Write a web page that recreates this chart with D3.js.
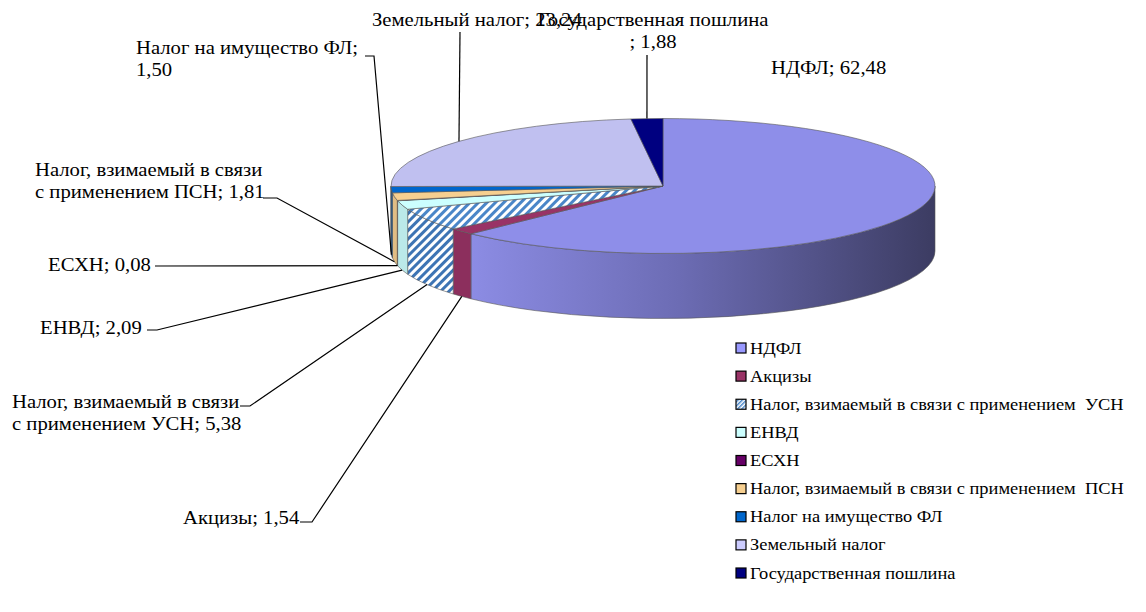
<!DOCTYPE html>
<html>
<head>
<meta charset="utf-8">
<script src="https://cdn.jsdelivr.net/npm/d3@7"></script>
<style>
  body { margin: 0; background: #fff; }
</style>
</head>
<body>
<div id="chart"></div>
<script>
// data
const names = ["НДФЛ", "Акцизы", "Налог, взимаемый в связи с применением  УСН", "ЕНВД", "ЕСХН",
  "Налог, взимаемый в связи с применением  ПСН", "Налог на имущество ФЛ", "Земельный налог", "Государственная пошлина"];
const values = [62.48, 1.54, 5.38, 2.09, 0.08, 1.81, 1.50, 23.24, 1.88];
const colors = ["#8e8ee9", "#993366", "url(#usn)", "#ccffff", "#660066", "#f6cf90", "#0066cc", "#c0c0f0", "#000080"];
const legendColors = ["#9999ff", "#993366", "url(#usnLeg)", "#ccffff", "#660066", "#f6cf90", "#0066cc", "#ccccff", "#000080"];

// label placement (layout only)
const labelPos = [
  {x: 771, y: 74, brk: null, pts: null},
  {x: 183, y: 524, brk: null, pts: [[300, 522], [312, 522]]},
  {x: 12, y: 408, brk: "связи", pts: [[240, 406], [250, 406]]},
  {x: 40, y: 334, brk: null, pts: [[147, 330], [157, 330]]},
  {x: 48, y: 271, brk: null, pts: [[155, 266]]},
  {x: 35, y: 176, brk: "связи", pts: [[263, 198], [277, 198]]},
  {x: 136, y: 54, brk: "ФЛ;", pts: [[365, 56], [374, 56]]},
  {x: 372, y: 26, brk: null, pts: [[460, 32]]},
  {x: 653, y: 26, brk: "пошлина", anchor: "middle", pts: [[647, 55]]}
];

const FONT = "'Liberation Serif', 'Times New Roman', 'DejaVu Serif', serif";
const W = 1146, H = 612;
const cx = 663, cy = 186, rx = 272, ry = 67.5, depth = 65;

const svg = d3.select("#chart").append("svg")
    .attr("width", W)
    .attr("height", H);

const defs = svg.append("defs");
function stripes(id, size, col) {
  const p = defs.append("pattern")
      .attr("id", id)
      .attr("width", size).attr("height", size)
      .attr("patternUnits", "userSpaceOnUse")
      .attr("patternTransform", "rotate(45)");
  p.append("rect").attr("width", size).attr("height", size).attr("fill", "#fff");
  p.append("rect").attr("width", size / 2).attr("height", size).attr("fill", col);
}
stripes("usn", 6, "#4a86c8");
stripes("usnSide", 6, "#3d74b4");
stripes("usnLeg", 3, "#4a86c8");

const grad = defs.append("linearGradient")
    .attr("id", "ndflSide")
    .attr("gradientUnits", "userSpaceOnUse")
    .attr("x1", 470).attr("x2", cx + rx).attr("y1", 0).attr("y2", 0);
grad.append("stop").attr("offset", "0%").attr("stop-color", "#8c8ce4");
grad.append("stop").attr("offset", "45%").attr("stop-color", "#6c6cb4");
grad.append("stop").attr("offset", "100%").attr("stop-color", "#3c3c62");

const fmt = v => v.toFixed(2).replace(".", ",");
const pt = (a, dy = 0) => [cx + rx * Math.sin(a), cy - ry * Math.cos(a) + dy];

const arcs = d3.pie().sort(null).value(d => d)(values);

// side walls (front half only)
const sides = svg.append("g");
arcs.forEach((d, i) => {
  const s = Math.max(d.startAngle, Math.PI / 2), e = Math.min(d.endAngle, 3 * Math.PI / 2);
  if (s >= e) return;
  const p0 = pt(s), p1 = pt(e), q1 = pt(e, depth), q0 = pt(s, depth);
  let fill;
  if (i === 0) fill = "url(#ndflSide)";
  else if (i === 2) fill = "url(#usnSide)";
  else fill = d3.color(colors[i]).darker(0.25);
  sides.append("path")
      .attr("d", `M${p0}A${rx},${ry} 0 0 1 ${p1}L${q1}A${rx},${ry} 0 0 0 ${q0}Z`)
      .attr("fill", fill)
      .attr("stroke", "#555")
      .attr("stroke-width", 0.6);
});

// top faces
const tops = svg.append("g");
arcs.forEach((d, i) => {
  const p0 = pt(d.startAngle), p1 = pt(d.endAngle);
  const large = d.endAngle - d.startAngle > Math.PI ? 1 : 0;
  tops.append("path")
      .attr("d", `M${cx},${cy}L${p0}A${rx},${ry} 0 ${large} 1 ${p1}Z`)
      .attr("fill", colors[i])
      .attr("stroke", "#555")
      .attr("stroke-width", 0.6);
});

// leader lines
arcs.forEach((d, i) => {
  const lp = labelPos[i];
  if (!lp.pts) return;
  const mid = (d.startAngle + d.endAngle) / 2;
  const front = mid > Math.PI / 2 && mid < 3 * Math.PI / 2;
  const end = front ? pt(mid, depth) : pt(mid);
  svg.append("path")
      .attr("d", d3.line()(lp.pts.concat([end])))
      .attr("fill", "none")
      .attr("stroke", "#000")
      .attr("stroke-width", 1.2);
});

// data labels
arcs.forEach((d, i) => {
  const lp = labelPos[i];
  const full = names[i].replace(/\s+/g, " ") + "; " + fmt(values[i]);
  let lines = [full];
  if (lp.brk) {
    const k = full.indexOf(lp.brk) + lp.brk.length;
    lines = [full.slice(0, k), full.slice(k).trim()];
  }
  lines.forEach((t, j) => {
    svg.append("text")
        .attr("transform", `translate(${lp.x},${lp.y + j * 22}) scale(1.15,1)`)
        .attr("text-anchor", lp.anchor || "start")
        .style("font-family", FONT)
        .style("font-size", "18px")
        .style("fill", "#000")
        .text(t);
  });
});

// legend
const lg = svg.append("g");
const ly = d3.scalePoint().domain(names).range([348, 573]);
names.forEach((n, i) => {
  lg.append("rect")
      .attr("x", 736).attr("y", ly(n) - 5)
      .attr("width", 10).attr("height", 10)
      .attr("fill", legendColors[i])
      .attr("stroke", "#000")
      .attr("stroke-width", 1.2);
  lg.append("text")
      .attr("transform", `translate(750,${ly(n) + 5.5}) scale(1.15,1)`)
      .style("font-family", FONT)
      .style("font-size", "16px")
      .style("white-space", "pre")
      .style("fill", "#000")
      .text(n);
});
</script>
</body>
</html>
